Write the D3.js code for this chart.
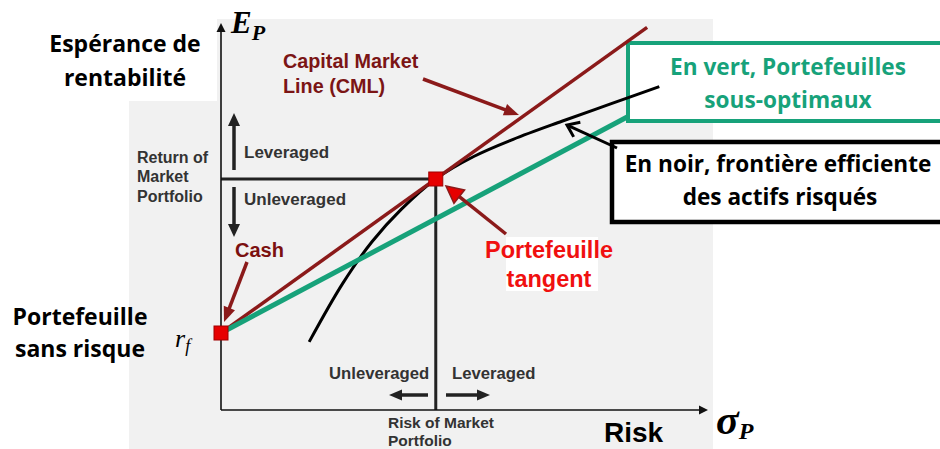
<!DOCTYPE html>
<html><head><meta charset="utf-8">
<script src="https://cdn.jsdelivr.net/npm/d3@7"></script>
<style>body{margin:0;background:#fff}svg{display:block}</style>
</head><body>
<svg id="c" width="940" height="449"></svg>
<script>
// ---- data (σ = risk, E = expected return, in arbitrary units 0..100) ----
const riskFreeSigma = 0, riskFreeReturn = 20;
const tangentSigma = 44.1, tangentReturn = 60;
const cmlSigma = [0, 87.5];
const cmlReturn = [20, 99.4];
const greenSigma = [0, 83.4];
const greenReturn = [20, 76.1];
const frontierSigma = [18.1, 25, 31, 37, 44.1, 52, 60, 70, 80, 90];
const frontierReturn = [17.7, 32.9, 43.7, 52.1, 60.0, 65.9, 70.3, 75.0, 79.5, 84.0];

const svg = d3.select("#c");
const x = d3.scaleLinear().domain([0, 100]).range([221, 708]);
const y = d3.scaleLinear().domain([0, 100]).range([410, 25]);

const RED = "#8b1a1a", GREEN = "#17a27a";
const SANS = "'Liberation Sans', Arial, sans-serif";
const CAL = "'Open Sans', sans-serif";
const SERIF = "'Liberation Serif', serif";

// background
svg.append("rect").attr("x", 129).attr("y", 19).attr("width", 584).attr("height", 440).attr("fill", "#f1f1f1");
svg.append("rect").attr("x", 125).attr("y", 15).attr("width", 92).attr("height", 86).attr("fill", "#fff");
svg.append("rect").attr("x", 506).attr("y", 237).attr("width", 92).attr("height", 54).attr("fill", "#fff");

// boxes
svg.append("rect").attr("x", 628).attr("y", 43).attr("width", 330).attr("height", 78)
  .attr("fill", "#fff").attr("stroke", GREEN).attr("stroke-width", 4);
svg.append("rect").attr("x", 612).attr("y", 142).attr("width", 340).attr("height", 80)
  .attr("fill", "#fff").attr("stroke", "#000").attr("stroke-width", 4.5);

// arrow helper
function arrow(x1, y1, x2, y2, o) {
  const dx = x2 - x1, dy = y2 - y1, L = Math.hypot(dx, dy);
  const ux = dx / L, uy = dy / L, px = -uy, py = ux;
  const hl = o.hl || 12, hw = o.hw || 10;
  const bx = x2 - ux * hl, by = y2 - uy * hl;
  const g = svg.append("g");
  if (o.open) {
    g.append("line").attr("x1", x1).attr("y1", y1).attr("x2", x2 - ux * 2).attr("y2", y2 - uy * 2)
      .attr("stroke", o.color).attr("stroke-width", o.w);
    g.append("path").attr("d", `M${bx + px * hw / 2},${by + py * hw / 2}L${x2},${y2}L${bx - px * hw / 2},${by - py * hw / 2}`)
      .attr("fill", "none").attr("stroke", o.color).attr("stroke-width", o.w).attr("stroke-linejoin", "miter");
  } else {
    g.append("line").attr("x1", x1).attr("y1", y1).attr("x2", bx + ux * 2).attr("y2", by + uy * 2)
      .attr("stroke", o.color).attr("stroke-width", o.w);
    g.append("path").attr("d", `M${x2},${y2}L${bx + px * hw / 2},${by + py * hw / 2}L${bx - px * hw / 2},${by - py * hw / 2}Z`)
      .attr("fill", o.head || o.color).attr("stroke", o.headStroke || "none").attr("stroke-width", 1.5);
  }
}

// guide lines to the market portfolio
svg.append("line").attr("x1", x(0)).attr("x2", x(tangentSigma)).attr("y1", y(tangentReturn)).attr("y2", y(tangentReturn))
  .attr("stroke", "#222").attr("stroke-width", 3);
svg.append("line").attr("x1", x(tangentSigma)).attr("x2", x(tangentSigma)).attr("y1", y(tangentReturn)).attr("y2", y(0))
  .attr("stroke", "#222").attr("stroke-width", 3);

// axes
arrow(x(0), y(0), x(0), y(100) - 2, {color: "#111", w: 1.6, hl: 9, hw: 9});
arrow(x(0), y(0), x(100), y(0), {color: "#111", w: 1.6, hl: 9, hw: 9});

// frontier
const frontier = frontierSigma.map((s, i) => [s, frontierReturn[i]]);
svg.append("path").datum(frontier)
  .attr("d", d3.line().x(d => x(d[0])).y(d => y(d[1])).curve(d3.curveCatmullRom.alpha(0.5)))
  .attr("fill", "none").attr("stroke", "#000").attr("stroke-width", 3);

// CML
svg.append("line").attr("x1", x(cmlSigma[0])).attr("y1", y(cmlReturn[0])).attr("x2", x(cmlSigma[1])).attr("y2", y(cmlReturn[1]))
  .attr("stroke", RED).attr("stroke-width", 3.5);

// sub-optimal line
svg.append("line").attr("x1", x(greenSigma[0])).attr("y1", y(greenReturn[0])).attr("x2", x(greenSigma[1])).attr("y2", y(greenReturn[1]))
  .attr("stroke", GREEN).attr("stroke-width", 5);

// squares
[[riskFreeSigma, riskFreeReturn], [tangentSigma, tangentReturn]].forEach(d => {
  svg.append("rect").attr("x", x(d[0]) - 7).attr("y", y(d[1]) - 7).attr("width", 14).attr("height", 14)
    .attr("fill", "#e60000").attr("stroke", "#a00000").attr("stroke-width", 1);
});

// annotation arrows
arrow(423, 79, 519, 115, {color: RED, w: 3.5, hl: 15, hw: 12});
arrow(247, 262, 224, 322, {color: RED, w: 3.5, hl: 15, hw: 12});
arrow(506, 234, 446, 186, {color: RED, w: 3.5, hl: 17, hw: 17, head: "#e60000", headStroke: RED});
arrow(617, 148, 567, 125, {color: "#000", w: 3, hl: 11, hw: 16, open: true});
arrow(234, 170, 234, 113, {color: "#222", w: 3.5, hl: 13, hw: 12});
arrow(234, 187, 234, 237, {color: "#222", w: 3.5, hl: 13, hw: 12});
arrow(428, 395, 389, 395, {color: "#222", w: 3.5, hl: 13, hw: 11});
arrow(446, 395, 490, 395, {color: "#222", w: 3.5, hl: 13, hw: 11});

// text helper
function txt(t, px, py, o) {
  return svg.append("text").attr("x", px).attr("y", py).text(t)
    .attr("font-family", o.f).attr("font-size", o.s).attr("font-weight", o.b === false ? "normal" : "bold")
    .attr("font-style", o.i ? "italic" : "normal").attr("fill", o.c || "#000")
    .attr("text-anchor", o.a || "start");
}

txt("Espérance de", 125, 52, {f: CAL, s: 23, a: "middle"});
txt("rentabilité", 125, 86, {f: CAL, s: 23, a: "middle"});
txt("Portefeuille", 80, 325, {f: CAL, s: 23, a: "middle"});
txt("sans risque", 80, 357, {f: CAL, s: 23, a: "middle"});

const ep = txt("E", 231, 33, {f: SERIF, s: 31, i: true});
ep.append("tspan").attr("font-size", 22).attr("dy", 7).text("P");
const rf = txt("r", 175, 347, {f: SERIF, s: 26, i: true, b: false});
rf.append("tspan").attr("font-size", 18).attr("dy", 5).text("f");
const sp = txt("σ", 716, 434, {f: SERIF, s: 42, i: true});
sp.append("tspan").attr("font-size", 24).attr("dy", 5).text("P");

txt("Capital Market", 283, 68, {f: SANS, s: 19.8, c: "#7b1515"});
txt("Line (CML)", 283, 93, {f: SANS, s: 19.8, c: "#7b1515"});
txt("Return of", 137, 163, {f: SANS, s: 16, c: "#333"});
txt("Market", 137, 182, {f: SANS, s: 16, c: "#333"});
txt("Portfolio", 137, 202, {f: SANS, s: 16, c: "#333"});
txt("Leveraged", 244, 158, {f: SANS, s: 17, c: "#333"});
txt("Unleveraged", 244, 205, {f: SANS, s: 17, c: "#333"});
txt("Cash", 235, 257, {f: SANS, s: 20, c: "#7b1010"});
txt("Unleveraged", 329, 379, {f: SANS, s: 16.7, c: "#333"});
txt("Leveraged", 452, 379, {f: SANS, s: 16.7, c: "#333"});
txt("Risk of Market", 388, 428, {f: SANS, s: 15.5, c: "#333"});
txt("Portfolio", 388, 446, {f: SANS, s: 15.5, c: "#333"});
txt("Risk", 604, 442, {f: SANS, s: 28});
txt("Portefeuille", 549, 258, {f: SANS, s: 23.5, c: "#f01010", a: "middle"});
txt("tangent", 549, 287, {f: SANS, s: 23.5, c: "#f01010", a: "middle"});
txt("En vert, Portefeuilles", 788, 75, {f: CAL, s: 22.6, c: GREEN, a: "middle"});
txt("sous-optimaux", 788, 108, {f: CAL, s: 22.6, c: GREEN, a: "middle"});
txt("En noir, frontière efficiente", 778, 172, {f: CAL, s: 22.6, a: "middle"});
txt("des actifs risqués", 780, 205, {f: CAL, s: 22.6, a: "middle"});
</script>
</body></html>
